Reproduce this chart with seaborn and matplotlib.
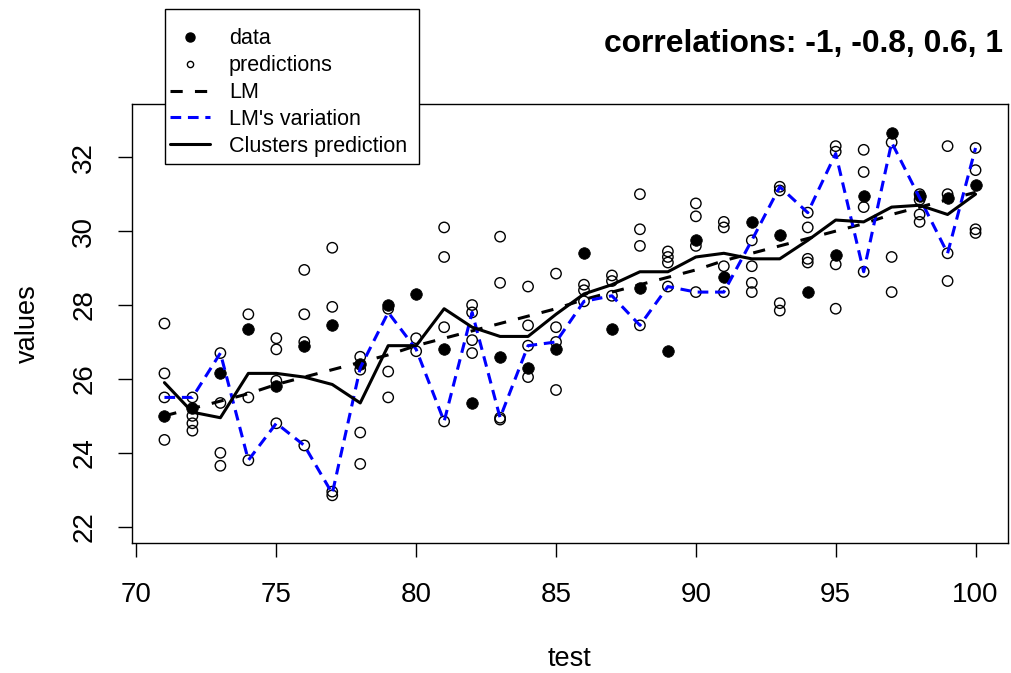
import matplotlib
matplotlib.use("Agg")
import matplotlib.pyplot as plt
from matplotlib.lines import Line2D
from matplotlib.patches import Rectangle
import seaborn as sns
import pandas as pd

# ------------------- Data -------------------

test = list(range(71, 101))

data_vals = [25.0, 25.2, 26.15, 27.35, 25.8, 26.9, 27.45, 26.4, 28.0, 28.3,
             26.8, 25.35, 26.6, 26.3, 26.8, 29.4, 27.35, 28.45, 26.75, 29.75,
             28.75, 30.25, 29.9, 28.35, 29.35, 30.95, 32.65, 30.95, 30.9, 31.25]

predictions = [
    [27.5, 26.15, 25.5, 24.35],
    [25.5, 25.0, 24.8, 24.6],
    [26.7, 25.35, 24.0, 23.65],
    [27.75, 25.5, 23.8],
    [27.1, 26.8, 25.95, 24.8],
    [28.95, 27.75, 27.0, 24.2],
    [29.55, 27.95, 22.95, 22.85],
    [26.6, 26.25, 24.55, 23.7],
    [27.9, 26.2, 25.5],
    [27.1, 26.75],
    [30.1, 29.3, 27.4, 24.85],
    [28.0, 27.8, 27.05, 26.7],
    [29.85, 28.6, 24.95, 24.9],
    [28.5, 27.45, 26.9, 26.05],
    [28.85, 27.4, 27.0, 25.7],
    [28.55, 28.4, 28.1],
    [28.8, 28.65, 28.25],
    [31.0, 30.05, 29.6, 27.45],
    [29.45, 29.3, 29.15, 28.5],
    [30.75, 30.4, 29.6, 28.35],
    [30.25, 30.1, 29.05, 28.35],
    [29.75, 29.05, 28.6, 28.35],
    [31.2, 31.1, 28.05, 27.85],
    [30.5, 30.1, 29.25, 29.15],
    [32.3, 32.15, 29.1, 27.9],
    [32.2, 31.6, 30.65, 28.9],
    [32.4, 29.3, 28.35],
    [31.0, 30.85, 30.45, 30.25],
    [32.3, 31.0, 29.4, 28.65],
    [32.25, 31.65, 30.05, 29.95],
]

lm_vals = [25.0, 25.2, 25.4, 25.6, 25.85, 26.05, 26.25, 26.45, 26.65, 26.9,
           27.1, 27.3, 27.5, 27.7, 27.9, 28.15, 28.35, 28.55, 28.75, 28.95,
           29.2, 29.4, 29.6, 29.8, 30.0, 30.2, 30.45, 30.65, 30.85, 31.05]

lm_variation = [25.5, 25.5, 26.7, 23.8, 24.8, 24.2, 22.9, 26.3, 27.8, 26.8,
                24.85, 27.8, 24.95, 26.9, 27.0, 28.1, 28.25, 27.45, 28.5, 28.35,
                28.35, 29.75, 31.2, 30.5, 32.1, 28.9, 32.4, 30.9, 29.4, 32.25]

clusters = [25.9, 25.1, 24.95, 26.15, 26.15, 26.05, 25.85, 25.35, 26.9, 26.9,
            27.9, 27.4, 27.15, 27.15, 27.75, 28.3, 28.55, 28.9, 28.9, 29.3,
            29.4, 29.25, 29.25, 29.75, 30.3, 30.25, 30.65, 30.7, 30.45, 31.0]

title_text = "correlations: -1, -0.8, 0.6, 1"

pred_df = pd.DataFrame(
    [(t, v) for t, vals in zip(test, predictions) for v in vals],
    columns=["test", "values"],
)

# ------------------- Plot -------------------

sns.set_style("white")
plt.rcParams["font.family"] = ["Liberation Sans", "DejaVu Sans"]
plt.rcParams["text.color"] = "black"
plt.rcParams["axes.labelcolor"] = "black"
plt.rcParams["xtick.color"] = "black"
plt.rcParams["ytick.color"] = "black"

W, H = 1011, 673
fig = plt.figure(figsize=(W / 100, H / 100), dpi=100)
ax = fig.add_axes([132 / W, 1 - 543 / H, 876 / W, 439 / H])

sns.scatterplot(x=test, y=data_vals, ax=ax, color="black", s=70,
                edgecolor="black", linewidth=0.5, zorder=3)
sns.scatterplot(data=pred_df, x="test", y="values", ax=ax, s=56,
                facecolors="none", edgecolor="black", linewidth=1.0, zorder=3)
sns.lineplot(x=test, y=lm_vals, ax=ax, color="black", linewidth=2.2,
             linestyle=(0, (4, 4)), errorbar=None, zorder=4)
sns.lineplot(x=test, y=lm_variation, ax=ax, color="#0000ff", linewidth=2.2,
             linestyle=(0, (3.5, 2.2)), errorbar=None, zorder=4)
sns.lineplot(x=test, y=clusters, ax=ax, color="black", linewidth=2.2,
             errorbar=None, zorder=5)

ax.set_xlim(69.84, 101.16)
ax.set_ylim(21.56, 33.44)
ax.set_xticks([70, 75, 80, 85, 90, 95, 100])
ax.set_yticks([22, 24, 26, 28, 30, 32])
ax.tick_params(axis="both", direction="out", length=10, width=1,
               labelsize=20, color="black", bottom=True, left=True)
ax.tick_params(axis="x", pad=18)
ax.tick_params(axis="y", pad=15)
plt.setp(ax.get_yticklabels(), rotation=90, va="center")

for sp in ax.spines.values():
    sp.set_color("black")
    sp.set_linewidth(1.0)

ax.set_xlabel("test", fontsize=19.5)
ax.set_ylabel("values", fontsize=19.5)
ax.xaxis.set_label_coords(0.5, -0.234)
ax.yaxis.set_label_coords(-0.104, 0.5)

fig.text(1003 / W, 1 - 51.7 / H, title_text, ha="right",
         va="baseline", fontsize=22.9, fontweight="bold")

# legend frame drawn separately so the inner padding can match
fig.patches.append(Rectangle((165 / W, 1 - 164 / H), 254 / W, 155 / H,
                             transform=fig.transFigure, facecolor="white",
                             edgecolor="black", linewidth=1.0, zorder=10))

handles = [
    Line2D([], [], marker="o", ls="none", color="black", ms=6.5),
    Line2D([], [], marker="o", ls="none", mfc="none", mec="black", ms=4.5, mew=1),
    Line2D([], [], color="black", lw=2.2, ls=(0, (4, 4))),
    Line2D([], [], color="#0000ff", lw=2.2, ls=(0, (3.5, 2.2))),
    Line2D([], [], color="black", lw=2.2),
]
labels = ["data", "predictions", "LM", "LM's variation", "Clusters prediction"]
leg = fig.legend(handles, labels, loc="upper left",
                 bbox_to_anchor=(170 / W, 1 - 28.5 / H),
                 bbox_transform=fig.transFigure, fontsize=15.5,
                 frameon=False, borderpad=0, labelspacing=0.27,
                 handlelength=1.86, handletextpad=0.88, borderaxespad=0)
leg.set_zorder(11)

plt.savefig("out.png", dpi=100)
